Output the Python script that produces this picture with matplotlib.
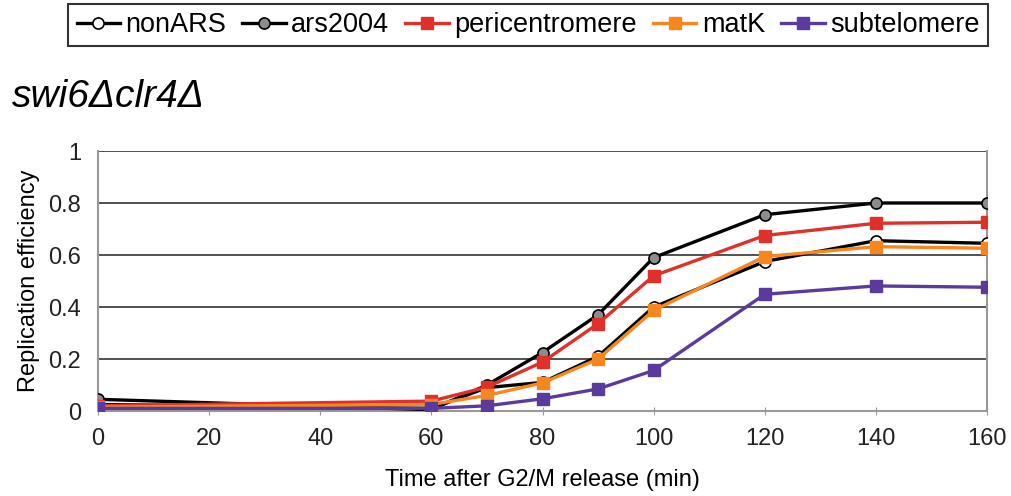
import matplotlib
matplotlib.use("Agg")
import matplotlib.pyplot as plt

plt.rcParams['font.family'] = ['Liberation Sans', 'DejaVu Sans']

# time points (min)
time = [0, 60, 70, 80, 90, 100, 120, 140, 160]

nonARS = [0.025, 0.01, 0.09, 0.11, 0.21, 0.40, 0.575, 0.655, 0.645]
ars2004 = [0.045, 0.005, 0.10, 0.225, 0.37, 0.59, 0.755, 0.80, 0.80]
pericentromere = [0.02, 0.038, 0.092, 0.188, 0.336, 0.52, 0.675, 0.722, 0.726]
matK = [0.015, 0.025, 0.06, 0.108, 0.20, 0.387, 0.594, 0.632, 0.626]
subtelomere = [0.01, 0.01, 0.02, 0.047, 0.085, 0.156, 0.449, 0.481, 0.476]

xticks = [0, 20, 40, 60, 80, 100, 120, 140, 160]
yticks = [0, 0.2, 0.4, 0.6, 0.8, 1]
ytick_labels = ['0', '0.2', '0.4', '0.6', '0.8', '1']

fig = plt.figure(figsize=(10.11, 4.96), dpi=100)
ax = fig.add_axes([98 / 1011, 1 - 411 / 496, 889 / 1011, 260 / 496])

lw = 2.4
ax.plot(time, nonARS, '-', color='black', lw=lw, marker='o', ms=8,
        mfc='white', mec='black', mew=1.2, label='nonARS', zorder=3)
ax.plot(time, ars2004, '-', color='black', lw=lw, marker='o', ms=8,
        mfc='#8c8c8c', mec='black', mew=1.2, label='ars2004', zorder=3)
ax.plot(time, pericentromere, '-', color='#e0302a', lw=lw, marker='s', ms=9,
        mfc='#e0302a', mec='#e0302a', label='pericentromere', zorder=4)
ax.plot(time, matK, '-', color='#f7861f', lw=lw, marker='s', ms=9,
        mfc='#f7861f', mec='#f7861f', label='matK', zorder=5)
ax.plot(time, subtelomere, '-', color='#5a3a9c', lw=lw, marker='s', ms=9,
        mfc='#5a3a9c', mec='#5a3a9c', label='subtelomere', zorder=6)

ax.set_xlim(0, 160)
ax.set_ylim(0, 1)
ax.set_xticks(xticks)
ax.set_yticks(yticks)
ax.set_yticklabels(ytick_labels)
ax.yaxis.grid(True, color='#333333', lw=1.2)
ax.set_axisbelow(True)
ax.tick_params(axis='both', labelsize=17, colors='#222222', length=0)
ax.tick_params(axis='x', direction='inout', length=6, color='#999999', pad=9)
ax.tick_params(axis='y', pad=12)
for side in ['left', 'right', 'bottom']:
    ax.spines[side].set_color('#999999')
    ax.spines[side].set_linewidth(1.5)
ax.spines['top'].set_visible(False)

ax.set_xlabel('Time after G2/M release (min)', fontsize=17, labelpad=14)
ax.set_ylabel('Replication efficiency', fontsize=17, labelpad=6)

fig.text(12 / 1011, 1 - 97 / 496, 'swi6\u0394clr4\u0394', fontsize=28,
         style='italic', va='center', ha='left')

leg = fig.legend(loc='center', bbox_to_anchor=(528 / 1011, 1 - 25 / 496),
                 ncol=5, fontsize=19.5, frameon=True, fancybox=False,
                 edgecolor='black', handlelength=1.6, handletextpad=0.2,
                 columnspacing=0.6, borderpad=0.3, borderaxespad=0)
leg.get_frame().set_linewidth(1.5)

fig.savefig('out.png', dpi=100)
